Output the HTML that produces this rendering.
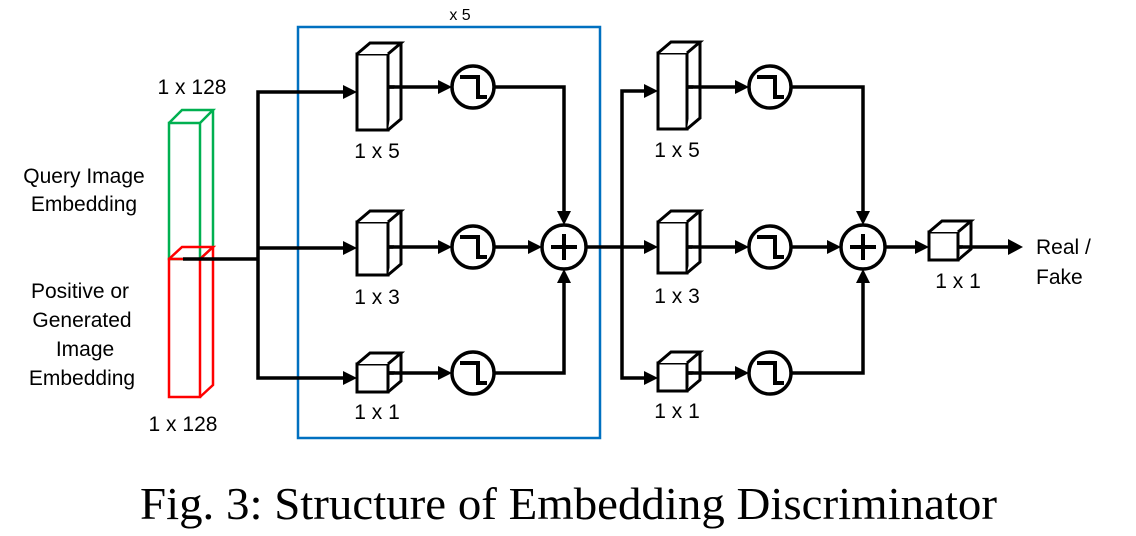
<!DOCTYPE html>
<html><head><meta charset="utf-8"><style>
html,body{margin:0;padding:0;background:#fff;}
svg{display:block;}
text{font-family:"Liberation Sans",sans-serif;fill:#000;}
</style></head><body>
<svg width="1136" height="536" viewBox="0 0 1136 536" xmlns="http://www.w3.org/2000/svg">

<!-- blue box -->
<rect x="298" y="27" width="302" height="411" fill="none" stroke="#0070c0" stroke-width="2.5"/>
<text x="460" y="20" font-size="16" text-anchor="middle">x 5</text>

<!-- embedding bars -->
<g fill="none" stroke-width="2.5" stroke-linejoin="miter">
  <g stroke="#00b050">
    <rect x="169" y="123" width="31" height="136"/>
    <polyline points="169,123 182,110 213,110 200,123"/>
    <polyline points="213,110 213,247 200,259"/>
  </g>
  <g stroke="#ff0000">
    <rect x="169" y="259" width="31" height="138"/>
    <polyline points="169,259 182,247 213,247 200,259"/>
    <polyline points="213,247 213,385 200,397"/>
  </g>
</g>
<text x="192" y="94" font-size="21" text-anchor="middle">1 x 128</text>
<text x="183" y="431" font-size="21" text-anchor="middle">1 x 128</text>
<g font-size="21" text-anchor="middle">
<text x="84" y="183">Query Image</text>
<text x="84" y="211">Embedding</text>
<text x="80" y="298">Positive or</text>
<text x="82" y="327">Generated</text>
<text x="85" y="356">Image</text>
<text x="82" y="385">Embedding</text>
</g>

<g stroke="#000" stroke-width="3.5" fill="none">
  <line x1="183" y1="259" x2="258" y2="259"/>
  <polyline points="345,92 258,92 258,378 345,378"/>
  <line x1="258" y1="248" x2="345" y2="248"/>
  <line x1="388" y1="87" x2="440" y2="87"/>
  <line x1="388" y1="247" x2="440" y2="247"/>
  <line x1="388" y1="373" x2="440" y2="373"/>
  <polyline points="495,87 564,87 564,212"/>
  <polyline points="495,373 564,373 564,282"/>
  <line x1="495" y1="247" x2="530" y2="247"/>
  <line x1="586" y1="247" x2="622" y2="247"/>
  <polyline points="646,91 622,91 622,378 646,378"/>
  <line x1="622" y1="247" x2="646" y2="247"/>
  <line x1="687" y1="87" x2="737" y2="87"/>
  <line x1="687" y1="247" x2="737" y2="247"/>
  <line x1="687" y1="373" x2="737" y2="373"/>
  <polyline points="791,87 863,87 863,212"/>
  <polyline points="791,373 863,373 863,282"/>
  <line x1="791" y1="247" x2="829" y2="247"/>
  <line x1="885" y1="247" x2="917" y2="247"/>
  <line x1="958" y1="247" x2="1010" y2="247"/>
</g>
<g fill="#000">
  <polygon points="357,92 343,85 343,99"/>
  <polygon points="357,248 343,241 343,255"/>
  <polygon points="357,378 343,371 343,385"/>
  <polygon points="452,87 438,80 438,94"/>
  <polygon points="452,247 438,240 438,254"/>
  <polygon points="452,373 438,366 438,380"/>
  <polygon points="564,225 557,211 571,211"/>
  <polygon points="564,269 557,283 571,283"/>
  <polygon points="542,247 528,240 528,254"/>
  <polygon points="658,91 644,84 644,98"/>
  <polygon points="658,247 644,240 644,254"/>
  <polygon points="658,378 644,371 644,385"/>
  <polygon points="749,87 735,80 735,94"/>
  <polygon points="749,247 735,240 735,254"/>
  <polygon points="749,373 735,366 735,380"/>
  <polygon points="863,225 856,211 870,211"/>
  <polygon points="863,269 856,283 870,283"/>
  <polygon points="841,247 827,240 827,254"/>
  <polygon points="929,247 915,240 915,254"/>
  <polygon points="1023,247 1008,239 1008,255"/>
</g>

<g fill="#fff" stroke="#000" stroke-width="3" stroke-linejoin="miter">
  <g><rect x="357" y="54" width="31" height="76"/><polyline points="357,54 370,43 401,43 388,54"/><polyline points="401,43 401,119 388,130"/></g>
  <g><rect x="357" y="222" width="31" height="53"/><polyline points="357,222 370,211 401,211 388,222"/><polyline points="401,211 401,264 388,275"/></g>
  <g><rect x="357" y="364" width="31" height="28"/><polyline points="357,364 370,353 401,353 388,364"/><polyline points="401,353 401,381 388,392"/></g>
  <g><rect x="658" y="53" width="29" height="76"/><polyline points="658,53 671,42 700,42 687,53"/><polyline points="700,42 700,118 687,129"/></g>
  <g><rect x="658" y="222" width="29" height="51"/><polyline points="658,222 671,211 700,211 687,222"/><polyline points="700,211 700,262 687,273"/></g>
  <g><rect x="658" y="363" width="29" height="28"/><polyline points="658,363 671,352 700,352 687,363"/><polyline points="700,352 700,380 687,391"/></g>
  <g><rect x="929" y="232" width="29" height="28"/><polyline points="929,232 942,221 971,221 958,232"/><polyline points="971,221 971,249 958,260"/></g>
</g>
<g stroke="#000" stroke-width="3.5">
  <line x1="388" y1="87" x2="401" y2="87"/><line x1="388" y1="247" x2="401" y2="247"/><line x1="388" y1="373" x2="401" y2="373"/>
  <line x1="687" y1="87" x2="700" y2="87"/><line x1="687" y1="247" x2="700" y2="247"/><line x1="687" y1="373" x2="700" y2="373"/>
  <line x1="958" y1="247" x2="971" y2="247"/>
</g>

<g fill="#fff" stroke="#000" stroke-width="3.5">
  <circle cx="473" cy="87" r="21"/><circle cx="473" cy="247" r="21"/><circle cx="473" cy="373" r="21"/>
  <circle cx="770" cy="87" r="21"/><circle cx="770" cy="247" r="21"/><circle cx="770" cy="373" r="21"/>
  <circle cx="564" cy="247" r="22"/><circle cx="863" cy="247" r="22"/>
</g>
<g fill="none" stroke="#000" stroke-width="4">
  <polyline points="460,77 478,77 478,97 487,97"/>
  <polyline points="460,237 478,237 478,257 487,257"/>
  <polyline points="460,363 478,363 478,383 487,383"/>
  <polyline points="757,77 775,77 775,97 784,97"/>
  <polyline points="757,237 775,237 775,257 784,257"/>
  <polyline points="757,363 775,363 775,383 784,383"/>
  <path d="M551,247 H577 M564,234 V260"/>
  <path d="M850,247 H876 M863,234 V260"/>
</g>

<g font-size="21" text-anchor="middle">
<text x="377" y="158">1 x 5</text>
<text x="377" y="304">1 x 3</text>
<text x="377" y="419">1 x 1</text>
<text x="677" y="157">1 x 5</text>
<text x="677" y="303">1 x 3</text>
<text x="677" y="418">1 x 1</text>
<text x="958" y="288">1 x 1</text>
</g>
<text x="1036" y="254" font-size="21">Real /</text>
<text x="1036" y="284" font-size="21">Fake</text>

<text x="140" y="519" font-size="46" textLength="857" lengthAdjust="spacingAndGlyphs" style="font-family:'Liberation Serif',serif">Fig. 3: Structure of Embedding Discriminator</text>
</svg>
</body></html>
